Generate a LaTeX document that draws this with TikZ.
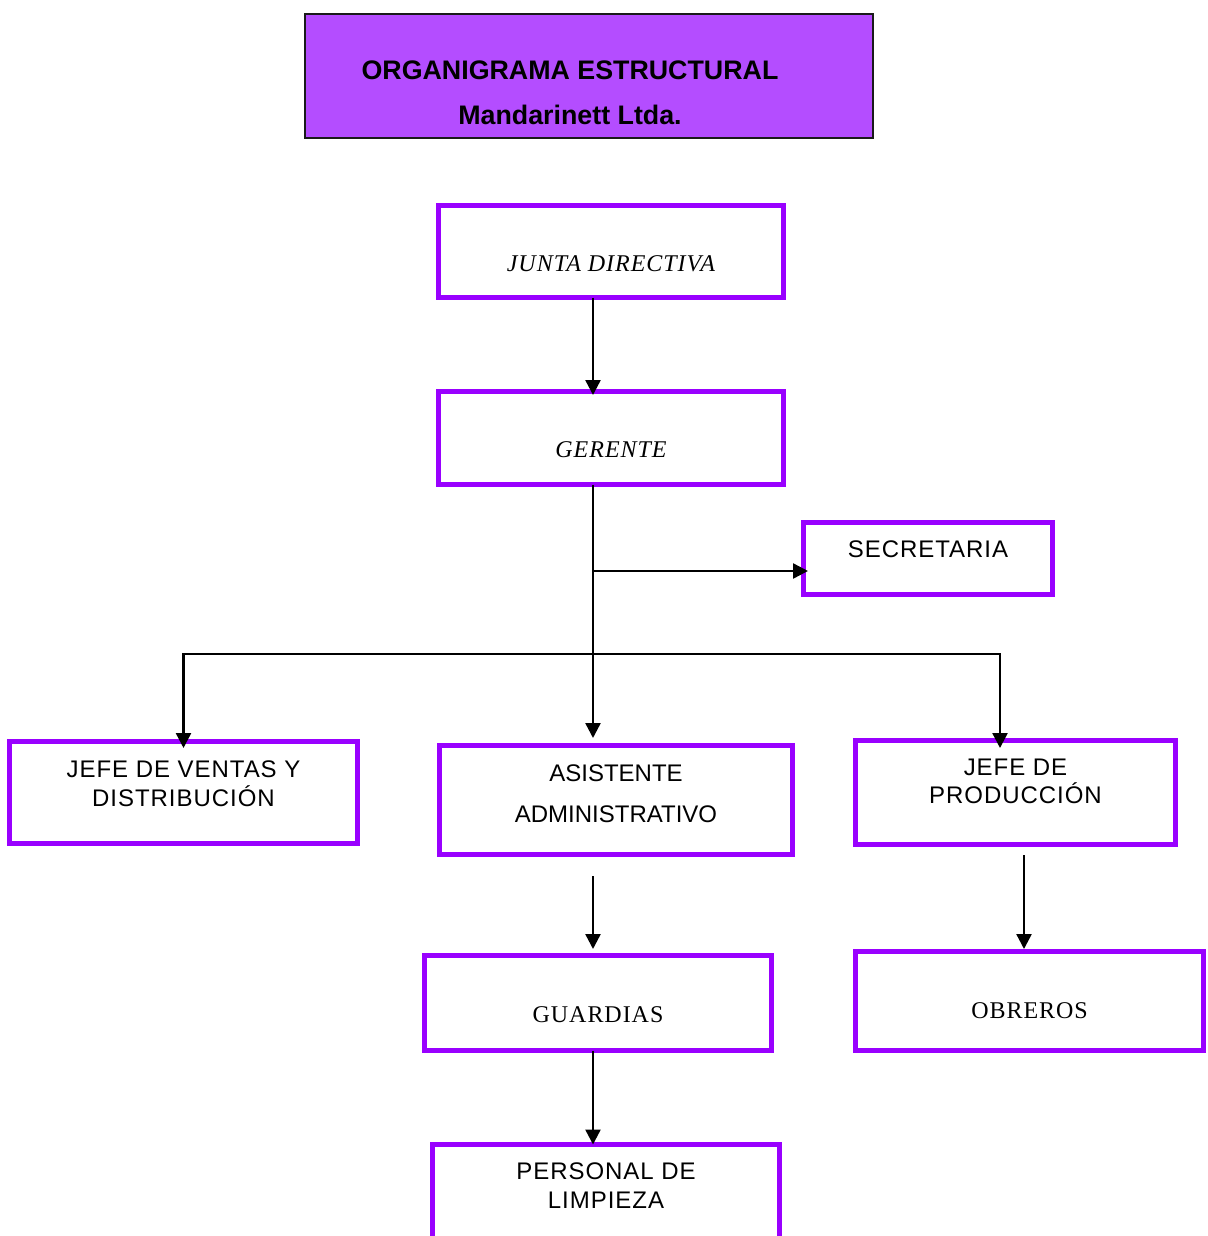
\documentclass[tikz,border=0pt]{standalone}
\usepackage{fontspec}
\setmainfont{Liberation Serif}
\setsansfont{Liberation Sans}
\newfontfamily\arialesp{Liberation Sans}[LetterSpace=4]
\newfontfamily\timesesp{Liberation Serif}[LetterSpace=4]
\usetikzlibrary{arrows.meta,positioning}
\definecolor{Violeta}{HTML}{9900FF}
\definecolor{Lila}{HTML}{B44DFF}
\definecolor{Borde}{HTML}{1A1A1A}

\tikzset{
  caja/.style={draw=Violeta,line width=2.5pt,rectangle,inner sep=0pt,outer sep=0pt,
    anchor=north,align=center},
  sans/.style={font=\arialesp\fontsize{12}{14.5}\selectfont},
  serif/.style={font=\timesesp\fontsize{12}{14.5}\selectfont},
  cursiva/.style={font=\timesesp\itshape\fontsize{12}{14.5}\selectfont},
  flecha/.style={line width=1.2pt,-{Triangle[width=7.5pt,length=7.5pt]}}
}

\begin{document}
\begin{tikzpicture}[x=0.5pt,y=-0.5pt]
  \useasboundingbox (0,0) rectangle (1208,1236);
  \clip (0,0) rectangle (1208,1236);

  % titulo
  \node[fill=Lila,draw=Borde,line width=1pt,anchor=north,inner sep=0pt,outer sep=0pt,
    minimum width=284pt,minimum height=62pt] (titulo) at (589,14) {};
  \node[anchor=north,inner sep=0pt,align=center,text height=55pt,text depth=0pt,
    font=\sffamily\bfseries\fontsize{13.4}{22.5}\selectfont] (textotitulo) at (570,14)
    {ORGANIGRAMA ESTRUCTURAL\\Mandarinett Ltda.};

  % cajas
  \node[caja,cursiva,minimum width=172.5pt,text height=32.75pt,text depth=13.25pt]
    (junta) at (611,205.5) {JUNTA DIRECTIVA};
  \node[caja,cursiva,minimum width=172.5pt,text height=32.75pt,text depth=13.75pt]
    (gerente) at (611,391.5) {GERENTE};
  \node[caja,sans,minimum width=124.5pt,text height=17.5pt,text depth=18.5pt]
    (secretaria) at (928,522) {SECRETARIA};
  \node[caja,sans,minimum width=174pt,text height=32.25pt,text depth=18.75pt]
    (ventas) at (183.5,741.5) {JEFE DE VENTAS Y\\DISTRIBUCIÓN};
  \node[caja,font=\sffamily\fontsize{12}{20.5}\selectfont,minimum width=176.5pt,
    text height=38.25pt,text depth=16.25pt]
    (asistente) at (616,745.5) {ASISTENTE\\ADMINISTRATIVO};
  \node[caja,font=\arialesp\fontsize{12}{14}\selectfont,minimum width=160pt,
    text height=31.25pt,text depth=20.75pt]
    (produccion) at (1015.5,740.5) {JEFE DE\\PRODUCCIÓN};
  \node[caja,serif,minimum width=173.5pt,text height=33.25pt,text depth=14.25pt]
    (guardias) at (598,955.5) {GUARDIAS};
  \node[caja,serif,minimum width=174pt,text height=33.25pt,text depth=16.25pt]
    (obreros) at (1029.5,951.5) {OBREROS};
  \node[caja,sans,minimum width=173.5pt,text height=31.75pt,text depth=18.25pt]
    (limpieza) at (606,1144.5) {PERSONAL DE\\LIMPIEZA};

  % conectores
  \coordinate (eje) at (593,0);
  \coordinate (ramal) at (593,571);
  \coordinate (bus) at (593,654);
  \coordinate (busder) at (1000,654);
  \coordinate (salidaasis) at (593,876);
  \coordinate (salidaprod) at (1024,855);

  \draw[flecha,shorten >=-1.75pt] (junta.south -| eje) -- (gerente.north -| eje);
  \draw[flecha,shorten >=3.75pt] (gerente.south -| eje) -- (asistente.north -| eje);
  \draw[flecha,shorten >=-2.25pt] (ramal) -- (ramal -| secretaria.west);
  \draw[flecha,shorten >=-3.25pt] (bus) -| (ventas.north);
  \draw[flecha,shorten >=-3.75pt] (bus) -- (busder) -- (busder |- produccion.north);
  \draw[flecha,shorten >=3.25pt] (salidaasis) -- (salidaasis |- guardias.north);
  \draw[flecha] (guardias.south -| eje) -- (limpieza.north -| eje);
  \draw[flecha,shorten >=1.25pt] (salidaprod) -- (salidaprod |- obreros.north);
\end{tikzpicture}
\end{document}
